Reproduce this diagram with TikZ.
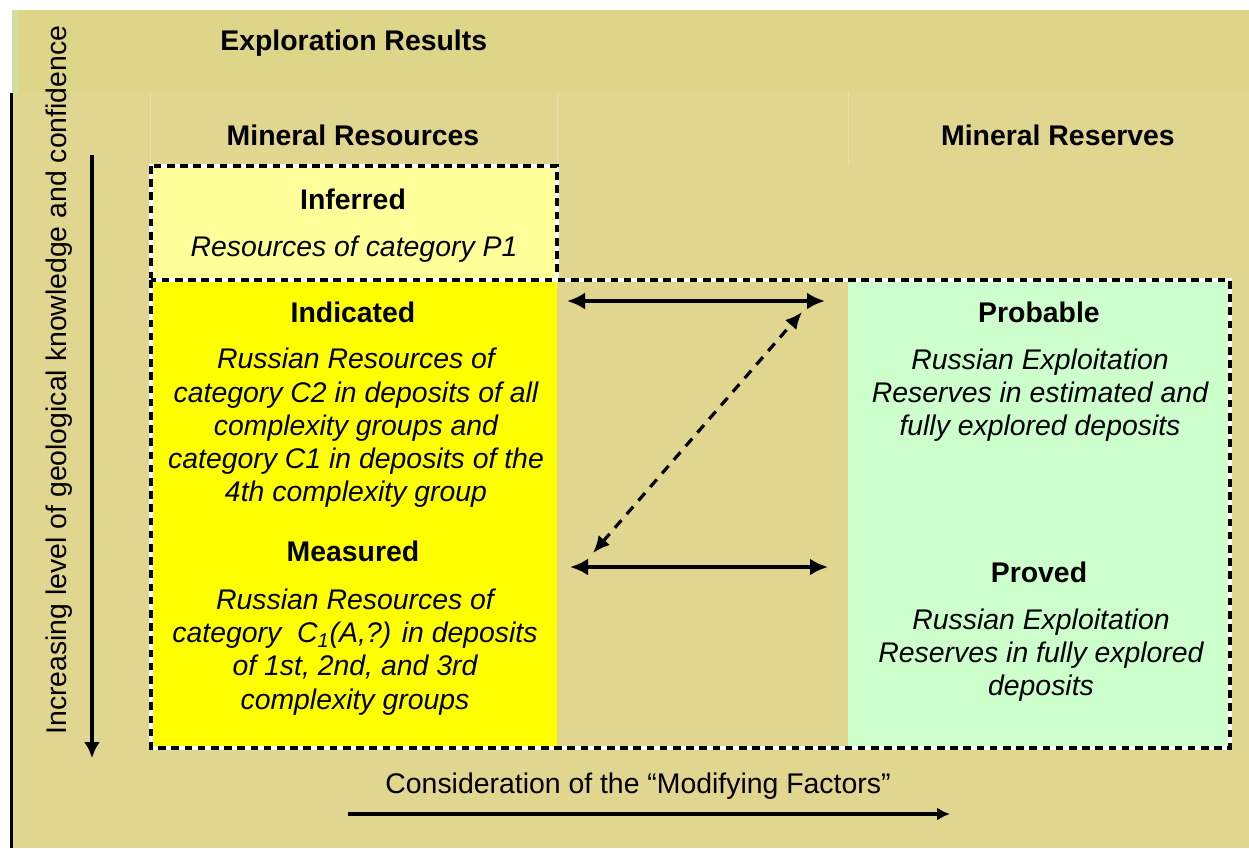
\documentclass[tikz,border=0pt]{standalone}
\usepackage{fontspec}
\setmainfont{Liberation Sans}
\usetikzlibrary{arrows.meta}
\definecolor{khaki}{HTML}{E0D690}
\definecolor{bandcol}{HTML}{DDD587}
\definecolor{bandedge}{HTML}{D3DE9E}
\definecolor{gridline}{HTML}{E8E0AC}
\definecolor{paleyellow}{HTML}{FFFF99}
\definecolor{palegreen}{HTML}{CCFFCC}
\definecolor{fullyellow}{HTML}{FFFF00}
\tikzset{
    every node/.append style={inner sep=0pt, font=\fontsize{14.2}{16.6}\selectfont},
    heading/.style={font=\fontsize{14.2}{16.6}\selectfont\bfseries},
    body/.style={font=\fontsize{14.2}{16.6}\selectfont\itshape, align=center},
    dashbox/.style={line width=2.4pt, dash pattern=on 3.8pt off 2.8pt,
        preaction={draw=white, solid, line width=2.4pt}},
    twoway/.style={line width=2.4pt, {Latex[length=9pt,width=8.5pt]}-{Latex[length=9pt,width=8.5pt]}},
    linkway/.style={line width=1.6pt, dash pattern=on 5pt off 4pt,
        {Latex[length=8.5pt,width=7.5pt]}-{Latex[length=8.5pt,width=7.5pt]}},
    axis/.style={line width=2pt, -{Latex[length=8pt,width=8pt]}},
}

\begin{document}
\begin{tikzpicture}[x=0.5pt,y=-0.5pt]
  \useasboundingbox (0,0) rectangle (1249,848);

  % background
  \fill[white] (0,0) rectangle (1249,848);
  \fill[bandcol] (12,10) rectangle (1249,93);
  \fill[bandedge] (12,10) rectangle (19,93);
  \fill[khaki] (13,93) rectangle (1249,848);
  \draw[gridline] (150,93) -- (150,166) (557,93) -- (557,166) (848,93) -- (848,166);
  \draw[line width=1.6pt] (11.5,93) -- (11.5,848);

  % boxes
  \fill[paleyellow] (151,166) rectangle (557,280);
  \fill[fullyellow] (151,280) rectangle (557,748);
  \fill[palegreen] (848,280) rectangle (1230,748);
  \draw[dashbox] (151,166) rectangle (557,280);
  \draw[dashbox] (151,280) rectangle (1230,748);

  % headings
  \node[heading, anchor=base west] (expl) at (220,50) {Exploration Results};
  \node[heading, anchor=base] (minres) at (353,145) {Mineral Resources};
  \node[heading, anchor=base] (minrsv) at (1058,145) {Mineral Reserves};

  % resources
  \node[heading, anchor=base] (inf) at (353,209) {Inferred};
  \node[body, anchor=base] (infbody) at (354,256) {Resources of category P1};
  \node[heading, anchor=base] (ind) at (353,322) {Indicated};
  \node[body] (indbody) at (356,428) {Russian Resources of\\
    category C2 in deposits of all\\ complexity groups and\\
    category C1 in deposits of the\\ 4th complexity group};
  \node[heading, anchor=base] (meas) at (353,561) {Measured};
  \node[body] (measbody) at (355,652) {Russian Resources of\\
    category~ C\textsubscript{1}(A,?) in deposits\\ of 1st, 2nd, and 3rd\\ complexity groups};

  % reserves
  \node[heading, anchor=base] (prob) at (1039,322) {Probable};
  \node[body] (probbody) at (1040,395) {Russian Exploitation\\
    Reserves in estimated and\\ fully explored deposits};
  \node[heading, anchor=base] (prov) at (1039,582) {Proved};
  \node[body] (provbody) at (1041,655) {Russian Exploitation\\
    Reserves in fully explored\\ deposits};

  % axes
  \node[anchor=base, rotate=90] (conf) at (66,380)
    {Increasing level of geological knowledge and confidence};
  \node[anchor=base] (modf) at (638,793) {Consideration of the “Modifying Factors”};
  \coordinate (conftop) at (92,155);
  \coordinate (confbot) at (92,758);
  \coordinate (modfl) at (348,814);
  \coordinate (modfr) at (950,814);
  \draw[axis] (conftop) -- (confbot);
  \draw[line width=2pt, -{Latex[length=6.5pt,width=6.5pt]}] (modfl) -- (modfr);

  % conversions
  \coordinate (indr) at (567,301);
  \coordinate (probl) at (825,301);
  \coordinate (measr) at (570,567);
  \coordinate (provl) at (828,567);
  \coordinate (measup) at (593,553);
  \coordinate (probdn) at (802,312);
  \draw[twoway] (indr) -- (probl);
  \draw[twoway] (measr) -- (provl);
  \draw[linkway] (measup) -- (probdn);
\end{tikzpicture}
\end{document}
